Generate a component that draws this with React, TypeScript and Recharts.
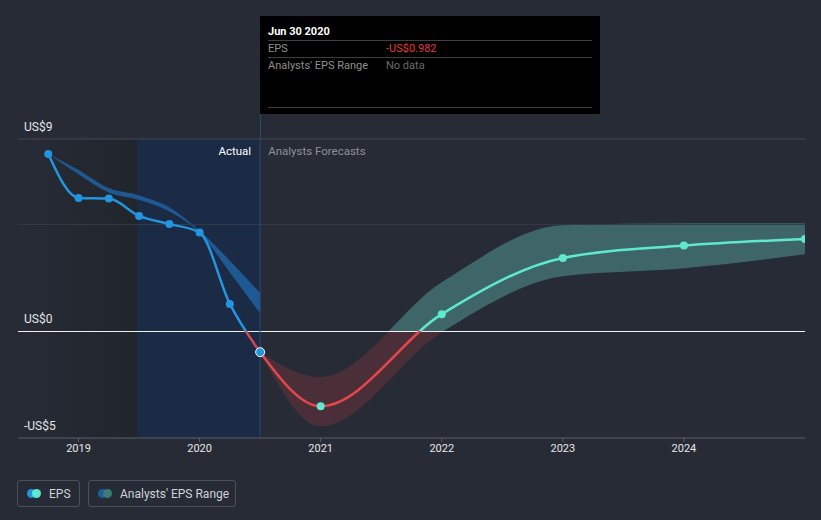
import React from 'react';
import {
  ComposedChart,
  Line,
  Area,
  XAxis,
  YAxis,
  ReferenceLine,
  ReferenceArea,
} from 'recharts';

// actual EPS, quarterly
const pastYears = [2018.75, 2019.0, 2019.25, 2019.5, 2019.75, 2020.0, 2020.25, 2020.5];
const pastEps = [8.3, 6.24, 6.21, 5.4, 5.02, 4.62, 1.28, -0.98];
const pastLow = [8.3, 7.35, 6.5, 6.15, 5.6, 4.6, 2.75, 0.84];
const pastHigh = [8.3, 7.55, 6.7, 6.36, 5.8, 4.7, 3.3, 1.78];

// analysts forecasts, yearly
const forecastYears = [2020.5, 2021, 2022, 2023, 2024, 2025];
const forecastEps = [-0.98, -3.51, 0.8, 3.43, 4.01, 4.32];
const forecastLow = [-0.98, -4.45, -0.05, 2.57, 2.95, 3.6];
const forecastHigh = [-0.98, -2.15, 2.29, 4.96, 5.06, 5.06];

const xTicks = [2019, 2020, 2021, 2022, 2023, 2024];
const yLabelValues = [9, 0, -5];
const yLabelTexts = ['US$9', 'US$0', '-US$5'];

const BLUE = '#2394df';
const TEAL = '#5fe8cf';
const RED = '#e5454b';

type Row = {
  year: number;
  eps?: number;
  pastRange?: [number, number];
  forecast?: number;
  range?: [number, number];
};

const rowMap = new Map<number, Row>();
pastYears.forEach((y, i) => {
  rowMap.set(y, { year: y, eps: pastEps[i], pastRange: [pastLow[i], pastHigh[i]] });
});
forecastYears.forEach((y, i) => {
  const r = rowMap.get(y) || { year: y };
  r.forecast = forecastEps[i];
  r.range = [forecastLow[i], forecastHigh[i]];
  rowMap.set(y, r);
});
const data: Row[] = Array.from(rowMap.values()).sort((a, b) => a.year - b.year);

// where zero sits inside each series' bounding box (0 = top, 1 = bottom)
const zeroOffset = (hi: number, lo: number) => Math.max(0, Math.min(1, hi / (hi - lo)));
const pastZero = zeroOffset(Math.max(...pastEps), Math.min(...pastEps));
const fcZero = zeroOffset(Math.max(...forecastEps), Math.min(...forecastEps));
const bandZero = zeroOffset(Math.max(...forecastHigh), Math.min(...forecastLow));

const font = 'Roboto, "Noto Sans", sans-serif';

const yLabel = (text: string) => (props: any) => {
  const { viewBox } = props;
  return (
    <text x={24} y={viewBox.y - 8} fill="#e6e6e6" fontSize={12} fontFamily={font}>
      {text}
    </text>
  );
};

const PastDot = (props: any) => {
  const { cx, cy, index } = props;
  if (cx == null || cy == null) return <g key={`pd-${index}`} />;
  const last = index === pastYears.length - 1;
  return (
    <circle
      key={`pd-${index}`}
      cx={cx}
      cy={cy}
      r={last ? 4.5 : 4}
      fill={BLUE}
      stroke={last ? '#ffffff' : 'none'}
      strokeWidth={1}
    />
  );
};

const ForecastDot = (props: any) => {
  const { cx, cy, index, payload } = props;
  if (cx == null || cy == null || payload.year === forecastYears[0]) return <g key={`fd-${index}`} />;
  return <circle key={`fd-${index}`} cx={cx} cy={cy} r={4} fill={TEAL} />;
};

const DividerLabel = (props: any) => {
  const { viewBox } = props;
  const x = viewBox.x;
  const y = viewBox.y + 16;
  return (
    <g fontFamily={font} fontSize={11.5}>
      <text x={x - 9} y={y} fill="#ffffff" textAnchor="end">Actual</text>
      <text x={x + 8} y={y} fill="#8d9199">Analysts Forecasts</text>
    </g>
  );
};

const LegendItem = ({ label, c1, c2, width }: { label: string; c1: string; c2: string; width: number }) => (
  <div
    style={{
      boxSizing: 'border-box',
      width,
      height: 27,
      border: '1px solid #4b505a',
      borderRadius: 3,
      display: 'flex',
      alignItems: 'center',
      paddingLeft: 9,
      marginRight: 8,
      color: '#d0d2d6',
      fontSize: 12,
      fontFamily: font,
    }}
  >
    <span style={{ position: 'relative', width: 15, height: 9, display: 'inline-block', marginRight: 7 }}>
      <span style={{ position: 'absolute', left: 0, top: 0, width: 9, height: 9, borderRadius: 5, background: c1 }} />
      <span style={{ position: 'absolute', left: 5, top: 0, width: 9, height: 9, borderRadius: 5, background: c2 }} />
    </span>
    {label}
  </div>
);

export default function App() {
  return (
    <div style={{ position: 'fixed', left: 0, top: 0, width: 821, height: 520, background: '#262b36', overflow: 'hidden' }}>
      <ComposedChart
        width={821}
        height={520}
        data={data}
        margin={{ top: 139, right: 16, left: 18, bottom: 52 }}
      >
        <defs>
          <linearGradient id="shadeLeft" x1="0" y1="0" x2="1" y2="0">
            <stop offset="0%" stopColor="#262b36" />
            <stop offset="100%" stopColor="#21252c" />
          </linearGradient>
          <linearGradient id="pastStroke" x1="0" y1="0" x2="0" y2="1">
            <stop offset={pastZero} stopColor={BLUE} />
            <stop offset={pastZero} stopColor="#cf4656" />
          </linearGradient>
          <linearGradient id="fcStroke" x1="0" y1="0" x2="0" y2="1">
            <stop offset={fcZero} stopColor={TEAL} />
            <stop offset={fcZero} stopColor={RED} />
          </linearGradient>
          <linearGradient id="bandFill" x1="0" y1="0" x2="0" y2="1">
            <stop offset={bandZero} stopColor="#3e6669" />
            <stop offset={bandZero} stopColor="#4a2f38" />
          </linearGradient>
        </defs>
        <XAxis
          type="number"
          dataKey="year"
          domain={[2018.5, 2025]}
          ticks={xTicks}
          allowDataOverflow
          height={30}
          axisLine={{ stroke: '#5a5f69' }}
          tickLine={{ stroke: '#5a5f69' }}
          tickSize={4}
          tick={{ fill: '#e6e6e6', fontSize: 11, fontFamily: font }}
        />
        <YAxis type="number" domain={[-5, 9]} hide />
        <ReferenceArea x1={2018.5} x2={2019.485} y1={-5} y2={9} fill="url(#shadeLeft)" fillOpacity={1} stroke="none" />
        <ReferenceArea x1={2019.485} x2={2020.5} y1={-5} y2={9} fill="#1b2a45" fillOpacity={1} stroke="none" />
        <ReferenceLine y={9} stroke="#444955" label={yLabel(yLabelTexts[0])} ifOverflow="visible" />
        <ReferenceLine y={5} stroke="#363b46" />
        <Area
          type="monotone"
          dataKey="pastRange"
          stroke="none"
          fill="#1f5e9c"
          fillOpacity={0.9}
          isAnimationActive={false}
          activeDot={false}
        />
        <Area
          type="monotone"
          dataKey="range"
          stroke="none"
          fill="url(#bandFill)"
          fillOpacity={1}
          isAnimationActive={false}
          activeDot={false}
        />
        <ReferenceLine y={yLabelValues[1]} stroke="#f0f0f0" shapeRendering="crispEdges" label={yLabel(yLabelTexts[1])} />
        <ReferenceLine y={yLabelValues[2]} stroke="none" label={yLabel(yLabelTexts[2])} ifOverflow="visible" />
        <ReferenceLine x={2020.5} stroke="#2a4a78" label={<DividerLabel />} />
        <Line
          type="monotone"
          dataKey="forecast"
          stroke="url(#fcStroke)"
          strokeWidth={2.5}
          dot={<ForecastDot />}
          activeDot={false}
          isAnimationActive={false}
        />
        <Line
          type="monotone"
          dataKey="eps"
          stroke="url(#pastStroke)"
          strokeWidth={2.5}
          dot={<PastDot />}
          activeDot={false}
          isAnimationActive={false}
        />
      </ComposedChart>

      {/* tooltip box, pinned at Jun 30 2020 */}
      <div style={{ position: 'absolute', left: 260, top: 114, width: 1, height: 25, background: '#2a4a78' }} />
      <div
        style={{
          position: 'absolute',
          left: 260,
          top: 16,
          width: 340,
          height: 98,
          background: '#000000',
          fontFamily: font,
          fontSize: 11,
          boxSizing: 'border-box',
          padding: '0 8px',
        }}
      >
        <div style={{ color: '#fff', fontWeight: 'bold', height: 24, lineHeight: '31px' }}>Jun 30 2020</div>
        <div style={{ borderTop: '1px solid #3f3f3f', height: 16, display: 'flex', lineHeight: '16px' }}>
          <span style={{ color: '#8f8f8f', width: 118 }}>EPS</span>
          <span style={{ color: '#e5393b' }}>-US$0.982</span>
        </div>
        <div style={{ borderTop: '1px solid #3f3f3f', height: 49, display: 'flex', lineHeight: '16px' }}>
          <span style={{ color: '#8f8f8f', width: 118 }}>Analysts' EPS Range</span>
          <span style={{ color: '#6b6b6b' }}>No data</span>
        </div>
        <div style={{ borderTop: '1px solid #3f3f3f' }} />
      </div>

      <div style={{ position: 'absolute', left: 17, top: 480, display: 'flex' }}>
        <LegendItem label="EPS" c1={BLUE} c2={TEAL} width={63} />
        <LegendItem label="Analysts' EPS Range" c1="#1f5e9c" c2="#3e7a78" width={148} />
      </div>
    </div>
  );
}
